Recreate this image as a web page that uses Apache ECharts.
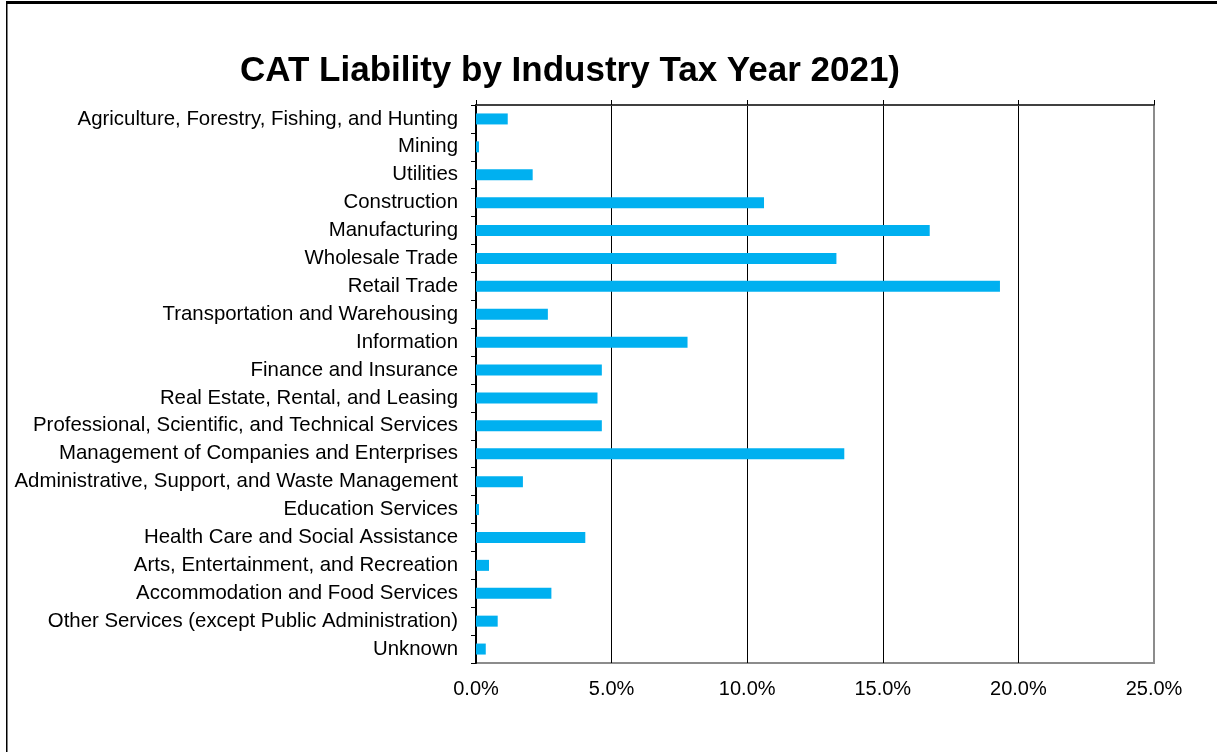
<!DOCTYPE html>
<html>
<head>
<meta charset="utf-8">
<script src="https://cdn.jsdelivr.net/npm/echarts@6/dist/echarts.min.js"></script>
<style>
  html, body { margin: 0; padding: 0; background: #fff; }
  #chart { width: 1217px; height: 752px; }
</style>
</head>
<body>
<div id="chart"></div>
<script>
// industries, top to bottom
var industries = [
  'Agriculture, Forestry, Fishing, and Hunting',
  'Mining',
  'Utilities',
  'Construction',
  'Manufacturing',
  'Wholesale Trade',
  'Retail Trade',
  'Transportation and Warehousing',
  'Information',
  'Finance and Insurance',
  'Real Estate, Rental, and Leasing',
  'Professional, Scientific, and Technical Services',
  'Management of Companies and Enterprises',
  'Administrative, Support, and Waste Management',
  'Education Services',
  'Health Care and Social Assistance',
  'Arts, Entertainment, and Recreation',
  'Accommodation and Food Services',
  'Other Services (except Public Administration)',
  'Unknown'
];
// share of CAT liability, percent
var liabilityPct = [
  1.17, 0.11, 2.09, 10.62, 16.73, 13.29, 19.32, 2.65, 7.80, 4.64,
  4.48, 4.64, 13.58, 1.73, 0.11, 4.03, 0.48, 2.78, 0.80, 0.36
];

var FONT = 'Arial, "Liberation Sans", sans-serif';

var chart = echarts.init(document.getElementById('chart'));

var option = {
  backgroundColor: '#fff',
  animation: false,
  title: {
    text: 'CAT Liability by Industry Tax Year 2021)',
    left: 235,
    top: 49,
    textStyle: { fontFamily: FONT, fontSize: 35, fontWeight: 'bold', color: '#000' }
  },
  graphic: [
    { type: 'rect', shape: { x: 6, y: 1, width: 1211, height: 3 }, style: { fill: '#000' } },
    { type: 'rect', shape: { x: 6, y: 1, width: 1.5, height: 751 }, style: { fill: '#000' } }
  ],
  grid: {
    left: 476, right: 63, top: 105, bottom: 89,
    show: true, borderColor: '#8c8c8c', borderWidth: 2, backgroundColor: 'transparent'
  },
  xAxis: [{
    type: 'value',
    position: 'bottom',
    min: 0, max: 25, interval: 5,
    axisLine: { show: false },
    axisTick: { show: false },
    splitLine: { show: true, showMaxLine: false, lineStyle: { color: '#000', width: 1 } },
    axisLabel: {
      margin: 16,
      fontFamily: FONT, fontSize: 20, color: '#000',
      formatter: function (v) { return v.toFixed(1) + '%'; }
    }
  }, {
    type: 'value',
    position: 'top',
    min: 0, max: 25, interval: 5,
    axisLine: { show: true, lineStyle: { color: '#404040', width: 2 } },
    axisTick: { show: true, length: 5, lineStyle: { color: '#000' } },
    axisLabel: { show: false },
    splitLine: { show: false }
  }],
  yAxis: {
    type: 'category',
    inverse: true,
    data: industries,
    axisLine: { show: true, lineStyle: { color: '#000', width: 2 } },
    axisTick: { show: true, length: 5, lineStyle: { color: '#000' } },
    axisLabel: { margin: 18, fontFamily: FONT, fontSize: 20.4, color: '#000', padding: [3, 0, 0, 0] },
    splitLine: { show: false }
  },
  series: [{
    type: 'bar',
    xAxisIndex: 0,
    data: liabilityPct,
    barWidth: 11,
    itemStyle: { color: '#00B0F0' }
  }]
};

chart.setOption(option);
</script>
</body>
</html>
